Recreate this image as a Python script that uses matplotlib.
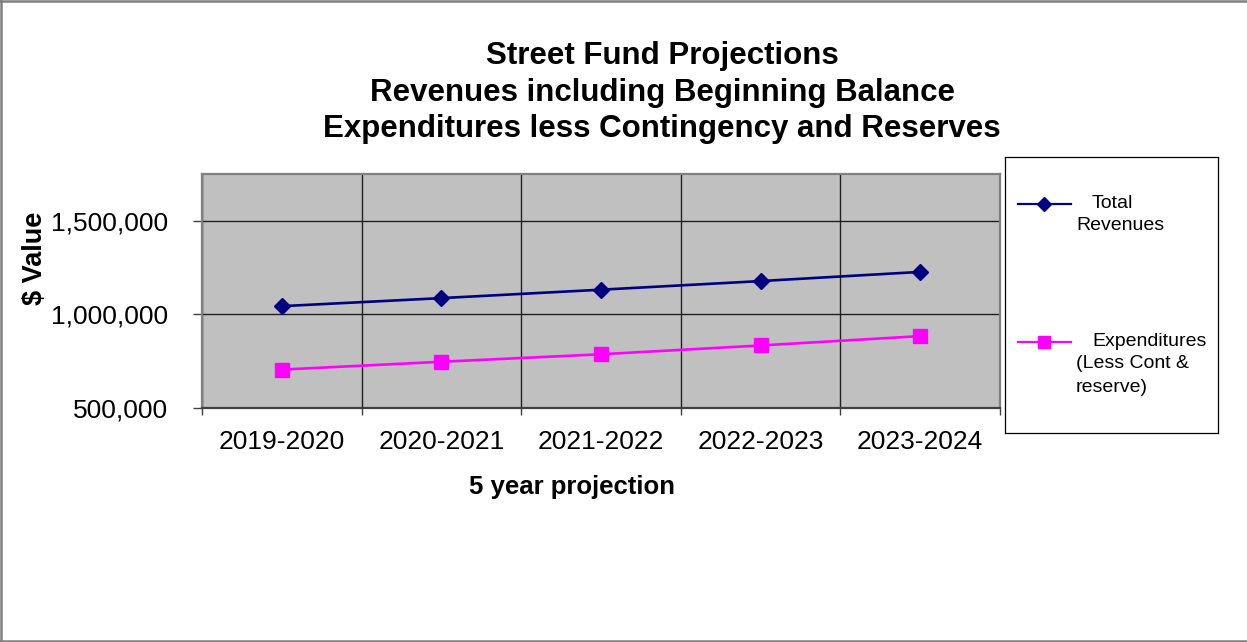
import matplotlib
matplotlib.use("Agg")
import matplotlib.pyplot as plt
from matplotlib.lines import Line2D
from matplotlib.ticker import FuncFormatter, FixedLocator

# ---- data ----
categories = ["2019-2020", "2020-2021", "2021-2022", "2022-2023", "2023-2024"]
total_revenues = [1044000, 1087000, 1132000, 1178000, 1227000]
expenditures = [705000, 747000, 787000, 834000, 884000]
y_ticks = [500000, 1000000, 1500000]
title_lines = ["Street Fund Projections",
               "Revenues including Beginning Balance",
               "Expenditures less Contingency and Reserves"]

plt.rcParams['font.family'] = ['Liberation Sans', 'DejaVu Sans']

W, H = 1247, 642
fig = plt.figure(figsize=(W / 100, H / 100), dpi=100)
fig.patch.set_facecolor("white")

def fx(px):
    return px / W

def fy(py):
    return 1 - py / H

# plot area
ax = fig.add_axes([fx(202), fy(408), fx(1000) - fx(202), fy(174) - fy(408)])
ax.set_facecolor("#C0C0C0")
x = list(range(len(categories)))
ax.plot(x, total_revenues, color="#000080", lw=1.9, marker="D", ms=8.5,
        mfc="#000080", mec="#000080", zorder=3)
ax.plot(x, expenditures, color="#FF00FF", lw=1.9, marker="s", ms=10.5,
        mfc="#FF00FF", mec="#FF00FF", zorder=3)

ax.set_xlim(-0.5, len(categories) - 0.5)
ax.set_ylim(500000, 1750000)
ax.set_xticks(x)
ax.set_xticklabels(categories, fontsize=19)
ax.xaxis.set_minor_locator(FixedLocator([i - 0.5 for i in range(len(categories) + 1)]))
ax.tick_params(axis="x", which="major", length=0, pad=15.5)
ax.tick_params(axis="x", which="minor", length=5, width=1, color="#404040")
ax.set_yticks(y_ticks)
ax.yaxis.set_major_formatter(FuncFormatter(lambda v, p: f"{int(v):,}"))
ax.tick_params(axis="y", which="major", length=6.5, width=1, color="#404040",
               pad=18, labelsize=19)
ax.grid(True, axis="y", which="major", color="#202020", lw=1)
ax.grid(True, axis="x", which="minor", color="#202020", lw=1)
ax.set_axisbelow(True)
for s in ax.spines.values():
    s.set_color("#808080")
    s.set_linewidth(1.6)
ax.spines["bottom"].set_color("#404040")

# titles
for i, line in enumerate(title_lines):
    fig.text(fx(662), fy(56 + i * 36.5), line, ha="center", va="center",
             fontsize=22.5, fontweight="bold")

fig.text(fx(572), fy(487), "5 year projection", ha="center", va="center",
         fontsize=18.5, fontweight="bold")
fig.text(fx(35), fy(258), "$ Value", ha="center", va="center", rotation=90,
         fontsize=19.5, fontweight="bold")

# legend box
lax = fig.add_axes([fx(1005), fy(433), fx(1218) - fx(1005), fy(157) - fy(433)])
lax.set_xlim(0, 1)
lax.set_ylim(0, 1)
lax.set_xticks([])
lax.set_yticks([])
for s in lax.spines.values():
    s.set_color("black")
    s.set_linewidth(0.9)

def ly(py):
    return (433 - py) / 276

def lx(px):
    return (px - 1005) / 213

lax.plot([lx(1018), lx(1071)], [ly(204)] * 2, color="#000080", lw=1.6)
lax.plot([lx(1044)], [ly(204)], color="#000080", marker="D", ms=7)
lax.plot([lx(1018), lx(1071)], [ly(342)] * 2, color="#FF00FF", lw=1.6)
lax.plot([lx(1044)], [ly(342)], color="#FF00FF", marker="s", ms=8.5)

lfs = 14
lax.text(lx(1092), ly(204), "Total", fontsize=lfs, va="center", ha="left")
lax.text(lx(1076), ly(226), "Revenues", fontsize=lfs, va="center", ha="left")
lax.text(lx(1092), ly(342), "Expenditures", fontsize=lfs, va="center", ha="left")
lax.text(lx(1076), ly(364), "(Less Cont &", fontsize=lfs, va="center", ha="left")
lax.text(lx(1076), ly(387), "reserve)", fontsize=lfs, va="center", ha="left")

# outer chart frame (top, left, bottom)
for xs, ys in [([0, 1], [0.999, 0.999]), ([0.001, 0.001], [0, 1]), ([0, 1], [0.002, 0.002])]:
    fig.add_artist(Line2D(xs, ys, transform=fig.transFigure, color="#808080", lw=1.8))

fig.savefig("out.png", dpi=100)
